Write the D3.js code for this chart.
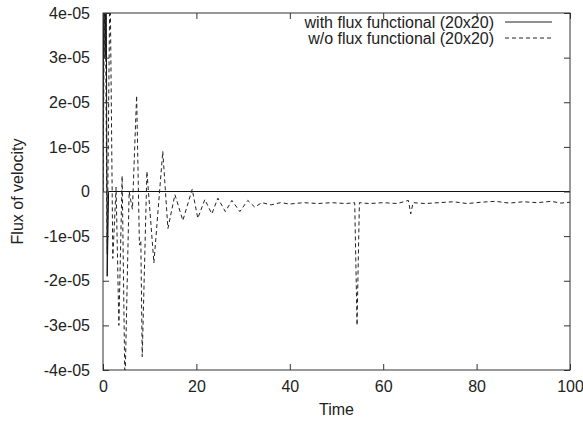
<!DOCTYPE html>
<html>
<head>
<meta charset="utf-8">
<script src="https://cdn.jsdelivr.net/npm/d3@7"></script>
<style>
  body { margin: 0; background: #fff; }
  text { font-family: "Liberation Sans", Arial, sans-serif; fill: #222; }
</style>
</head>
<body>
<div id="chart"></div>
<script>
// values are in units of 1e-05
var withTime = [0, 0.2, 0.45, 0.65, 0.9, 1.2, 100];
var withFlux = [0, 6, 3, 6, -1.9, 0, 0];

var woTime = [0, 0.4, 0.9, 1.5, 2.1, 2.8, 3.4, 4.1, 4.7, 5.6, 6.3, 7.2, 7.8, 8.1, 8.4, 9.4, 10.9,
  12.8, 13.9, 15.4, 17.1, 19.1, 20.3, 21.8, 23.3, 24.6, 26.2, 27.6, 29.3, 31.0, 32.5, 34, 36, 38,
  40, 43, 46, 49, 52, 53.9, 54.4, 54.9, 57, 60, 63, 65.4, 65.9, 66.4, 69, 72, 75, 78, 81, 84,
  87, 90, 93, 96, 98, 100];
var woFlux = [0, 5.5, -1.4, 5, -1.5, 0.1, -3, 0.35, -4.4, 0, -0.4, 2.15, -1.2, -1.1, -3.7, 0.45, -1.6,
  0.9, -0.83, -0.07, -0.65, 0.05, -0.6, -0.18, -0.5, -0.15, -0.45, -0.2, -0.45, -0.2, -0.35, -0.25, -0.3, -0.25,
  -0.28, -0.25, -0.27, -0.25, -0.27, -0.25, -3.0, -0.25, -0.27, -0.25, -0.27, -0.2, -0.5, -0.25, -0.27, -0.25, -0.23, -0.27, -0.24, -0.22,
  -0.26, -0.23, -0.25, -0.22, -0.26, -0.24];

var xTicks = [0, 20, 40, 60, 80, 100];
var yTicks = [-4, -3, -2, -1, 0, 1, 2, 3, 4];
var yTickLabels = ["-4e-05", "-3e-05", "-2e-05", "-1e-05", "0", "1e-05", "2e-05", "3e-05", "4e-05"];

var legendText = ["with flux functional (20x20)", "w/o flux functional (20x20)"];

var margin = {top: 13, right: 13, bottom: 53, left: 103},
    W = 583, H = 423,
    width = W - margin.left - margin.right,
    height = H - margin.top - margin.bottom;

var x = d3.scaleLinear().domain([0, 100]).range([0, width]);
var y = d3.scaleLinear().domain([-4, 4]).range([height, 0]);

var svg = d3.select("#chart").append("svg")
    .attr("width", W).attr("height", H)
  .append("g")
    .attr("transform", "translate(" + margin.left + "," + margin.top + ")");

svg.append("clipPath").attr("id", "clip")
  .append("rect").attr("width", width).attr("height", height);

var line = d3.line()
    .x(function(d) { return x(d[0]); })
    .y(function(d) { return y(d[1]); });

var withData = withTime.map(function(t, i) { return [t, withFlux[i]]; });
var woData = woTime.map(function(t, i) { return [t, woFlux[i]]; });

svg.append("path")
    .datum(woData)
    .attr("clip-path", "url(#clip)")
    .attr("fill", "none")
    .attr("stroke", "#222")
    .attr("stroke-width", 1)
    .attr("stroke-dasharray", "4,3")
    .attr("d", line);

svg.append("path")
    .datum(withData)
    .attr("clip-path", "url(#clip)")
    .attr("fill", "none")
    .attr("stroke", "#111")
    .attr("stroke-width", 1)
    .attr("d", line);

// axes, gnuplot style ticks pointing inward on all four sides
var bottomAxis = d3.axisBottom(x).tickValues(xTicks).tickSizeInner(-6).tickSizeOuter(0).tickPadding(11);
var topAxis = d3.axisTop(x).tickValues(xTicks).tickSizeInner(-6).tickSizeOuter(0).tickFormat("");
var leftAxis = d3.axisLeft(y).tickValues(yTicks).tickSizeInner(-6).tickSizeOuter(0).tickPadding(13)
    .tickFormat(function(d, i) { return yTickLabels[i]; });
var rightAxis = d3.axisRight(y).tickValues(yTicks).tickSizeInner(-6).tickSizeOuter(0).tickFormat("");

function style(g) {
  g.select(".domain").remove();
  g.selectAll("line").attr("stroke", "#333");
  g.selectAll("text").style("font-size", "16px").attr("fill", "#222");
}

svg.append("g").attr("transform", "translate(0," + height + ")").call(bottomAxis).call(style);
svg.append("g").call(topAxis).call(style);
svg.append("g").call(leftAxis).call(style);
svg.append("g").attr("transform", "translate(" + width + ",0)").call(rightAxis).call(style);

// frame
svg.append("rect")
    .attr("width", width).attr("height", height)
    .attr("fill", "none").attr("stroke", "#333").attr("stroke-width", 1);

// axis labels
svg.append("text")
    .attr("x", width / 2).attr("y", height + 45)
    .attr("text-anchor", "middle")
    .style("font-size", "16px")
    .text("Time");

svg.append("text")
    .attr("transform", "translate(" + (-80) + "," + (height / 2) + ") rotate(-90)")
    .attr("text-anchor", "middle")
    .style("font-size", "16px")
    .text("Flux of velocity");

// legend
var legend = svg.selectAll(".legend").data(legendText).enter().append("g")
    .attr("transform", function(d, i) { return "translate(0," + (9 + i * 16) + ")"; });

legend.append("text")
    .attr("x", 391).attr("y", 0).attr("dy", "0.35em")
    .attr("text-anchor", "end")
    .style("font-size", "16px")
    .text(function(d) { return d; });

legend.append("line")
    .attr("x1", 402).attr("x2", 449)
    .attr("stroke", "#222")
    .attr("stroke-dasharray", function(d, i) { return i === 0 ? null : "4,3"; });
</script>
</body>
</html>
